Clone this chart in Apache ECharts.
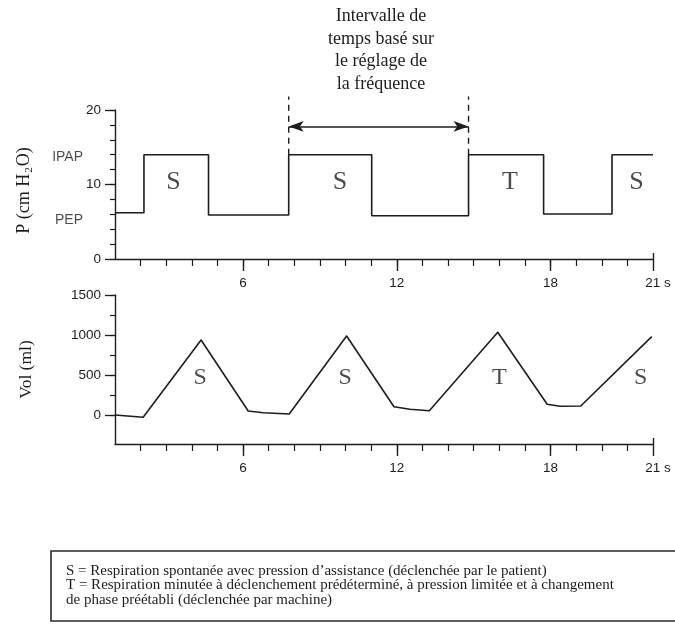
<!DOCTYPE html>
<html><head><meta charset="utf-8">
<script src="https://cdn.jsdelivr.net/npm/echarts@6/dist/echarts.min.js"></script>
<style>html,body{margin:0;padding:0;background:#fff}#c{width:675px;height:624px}</style>
</head><body><div id="c"></div>
<script>
// ---- data (time axis in s, as drawn) ----
const pressTimes  = [1.0, 2.13, 4.65, 7.78, 11.02, 14.8, 17.73, 20.4, 22.0];
const pressLevels = [6.2, 14, 5.9, 14, 5.8, 14, 6.05, 14, 14];
const volTimes  = [1.0, 2.10, 4.36, 6.20, 6.79, 7.80, 10.04, 11.89, 12.51, 13.27, 15.94, 17.87, 18.37, 19.18, 21.95];
const volValues = [0, -29, 937, 50, 29, 12, 987, 104, 71, 54, 1034, 134, 109, 112, 979];
const breathTypes = ['S', 'S', 'T', 'S'];
const pressLabelTimes = [3.28, 9.78, 16.42, 21.36];
const pressLabelLevel = 10.3;
const volLabelTimes = [4.32, 9.98, 16.0, 21.52];
const volLabelLevel = 460;
const intervalStart = 7.78, intervalEnd = 14.8;
const arrowLevel = 17.8;
const dashTop = 21.8;
const levelNames = ['IPAP', 'PEP'];
const levelValues = [13.7, 5.2];
const timeMinorTicks = [2,3,4,5,6,7,8,9,10,11,12,13,14,15,16,17,18,19,20,21];
const timeMajorTicks = [6, 12, 18, 22];
const timeMajorLabels = ['6', '12', '18', '21 s'];
const pressMinorTicks = [0,2,4,6,8,10,12,14,16,18,20];
const pressMajorTicks = [0, 10, 20];
const volMinorTicks = [0,250,500,750,1000,1250,1500];
const volMajorTicks = [0, 500, 1000, 1500];
const topNote = ['Intervalle de', 'temps basé sur', 'le réglage de', 'la fréquence'];
const legendLines = [
  'S = Respiration spontanée avec pression d’assistance (déclenchée par le patient)',
  'T = Respiration minutée à déclenchement prédéterminé, à pression limitée et à changement',
  'de phase préétabli (déclenchée par machine)'
];

const INK = '#1d1d1b';
const SANS = 'Liberation Sans';
const SERIF = 'Liberation Serif';
const XMIN = 1, XMAX = 22;

function minorX(grid) {
  return { type:'value', gridIndex:grid, min:XMIN, max:XMAX, position:'bottom',
    axisLine:{show:true, onZero:false, lineStyle:{color:INK, width:1.4}},
    axisTick:{show:true, customValues:timeMinorTicks, length:7, lineStyle:{color:INK, width:1.2}},
    axisLabel:{show:false}, splitLine:{show:false} };
}
function majorX(grid) {
  return { type:'value', gridIndex:grid, min:XMIN, max:XMAX, position:'bottom',
    axisLine:{show:false, onZero:false},
    axisTick:{show:true, customValues:timeMajorTicks, length:12, lineStyle:{color:INK, width:1.4}},
    axisLabel:{show:true, customValues:timeMajorTicks, margin:17, color:INK, fontFamily:SANS, fontSize:13.5,
      formatter: v => { const i = timeMajorTicks.indexOf(v); const t = timeMajorLabels[i];
        return v === XMAX ? '{e|' + t + '}' : t; },
      rich:{ e:{ padding:[0,0,0,10], color:INK, fontFamily:SANS, fontSize:13.5 } } },
    splitLine:{show:false} };
}
function endTickX(grid) {
  return { type:'value', gridIndex:grid, min:XMIN, max:XMAX, position:'bottom',
    axisLine:{show:false, onZero:false},
    axisTick:{show:true, inside:true, customValues:[XMAX], length:6, lineStyle:{color:INK, width:1.4}},
    axisLabel:{show:false}, splitLine:{show:false} };
}
function minorY(grid, min, max, ticks) {
  return { type:'value', gridIndex:grid, min:min, max:max, position:'left',
    axisLine:{show:true, onZero:false, lineStyle:{color:INK, width:1.4}},
    axisTick:{show:true, customValues:ticks, length:5, lineStyle:{color:INK, width:1.2}},
    axisLabel:{show:false}, splitLine:{show:false} };
}
function majorY(grid, min, max, ticks, name, pad) {
  return { type:'value', gridIndex:grid, min:min, max:max, position:'left',
    axisLine:{show:false, onZero:false},
    axisTick:{show:true, customValues:ticks, length:10, lineStyle:{color:INK, width:1.3}},
    axisLabel:{show:true, customValues:ticks, margin:14, color:INK, fontFamily:SANS, fontSize:13.5,
      formatter: v => String(v)},
    splitLine:{show:false},
    name:name, nameLocation:'middle', nameRotate:90, nameGap:80,
    nameTextStyle:{ color:INK, fontFamily:SERIF, fontSize:17.5, padding:pad,
      rich:{ a:{fontFamily:SERIF, fontSize:18, color:INK, lineHeight:22},
             b:{fontFamily:SERIF, fontSize:11, color:INK, lineHeight:22, verticalAlign:'bottom', padding:[8,1,0,1]} } } };
}

const pressData = pressTimes.map((t, i) => [t, pressLevels[i]]);
const volData = volTimes.map((t, i) => [t, volValues[i]]);
const pressLabels = breathTypes.map((b, i) => ({ name:b, value:[pressLabelTimes[i], pressLabelLevel] }));
const volLabels = breathTypes.map((b, i) => ({ name:b, value:[volLabelTimes[i], volLabelLevel] }));
const levelData = levelNames.map((n, i) => ({ name:n, value:[XMIN, levelValues[i]] }));

const chart = echarts.init(document.getElementById('c'), null, {renderer:'canvas'});
chart.setOption({
  animation:false,
  backgroundColor:'#fff',
  title:{ text: topNote.join('\n'), left:376, top:0, textAlign:'center',
    textStyle:{ color:INK, fontFamily:SERIF, fontSize:18, fontWeight:'normal', lineHeight:22.7 } },
  grid:[ {left:115, top:110, width:538, height:149},
         {left:115, top:295, width:538, height:149} ],
  xAxis:[ minorX(0), majorX(0), endTickX(0), minorX(1), majorX(1), endTickX(1) ],
  yAxis:[ minorY(0, 0, 20, pressMinorTicks),
          majorY(0, 0, 20, pressMajorTicks, '{a|P (cm H}{b|2}{a|O)}', [0, 12, 0, 0]),
          minorY(1, -362.5, 1500, volMinorTicks),
          majorY(1, -362.5, 1500, volMajorTicks, 'Vol (ml)', [0, 0, 0, 0]) ],
  series:[
    { type:'line', xAxisIndex:0, yAxisIndex:0, data:pressData, step:'end', symbol:'none',
      lineStyle:{color:INK, width:1.6} },
    { type:'line', xAxisIndex:0, yAxisIndex:0, clip:false, symbol:'none',
      data:[[intervalStart, 14], [intervalStart, dashTop]],
      lineStyle:{color:INK, width:1.4, type:[6,5]} },
    { type:'line', xAxisIndex:0, yAxisIndex:0, clip:false, symbol:'none',
      data:[[intervalEnd, 14], [intervalEnd, dashTop]],
      lineStyle:{color:INK, width:1.4, type:[6,5]},
      markLine:{ silent:true, symbol:['arrow','arrow'], symbolSize:[8,15],
        label:{show:false}, lineStyle:{color:INK, width:1.6, type:'solid'},
        data:[[ {coord:[intervalStart, arrowLevel]}, {coord:[intervalEnd, arrowLevel]} ]] } },
    { type:'scatter', xAxisIndex:0, yAxisIndex:0, symbolSize:0, data:pressLabels,
      label:{show:true, position:'inside', formatter:'{b}', color:INK, fontFamily:SERIF, fontSize:26} },
    { type:'scatter', xAxisIndex:0, yAxisIndex:0, symbolSize:0, data:levelData,
      label:{show:true, position:'left', distance:32, formatter:'{b}', color:INK, fontFamily:SANS, fontSize:14} },
    { type:'line', xAxisIndex:3, yAxisIndex:2, data:volData, symbol:'none',
      lineStyle:{color:INK, width:1.6, join:'round'} },
    { type:'scatter', xAxisIndex:3, yAxisIndex:2, symbolSize:0, data:volLabels,
      label:{show:true, position:'inside', formatter:'{b}', color:INK, fontFamily:SERIF, fontSize:24} }
  ],
  graphic:[
    { type:'rect', shape:{x:51, y:551, width:640, height:70},
      style:{fill:'none', stroke:'#2a2a2a', lineWidth:1.6} },
    ...legendLines.map((s, i) => ({ type:'text', x:66, y:571 + i*14.3,
      style:{ text:s, fill:INK, font:'15px "Liberation Serif"', verticalAlign:'middle', align:'left' } }))
  ]
});
</script></body></html>
